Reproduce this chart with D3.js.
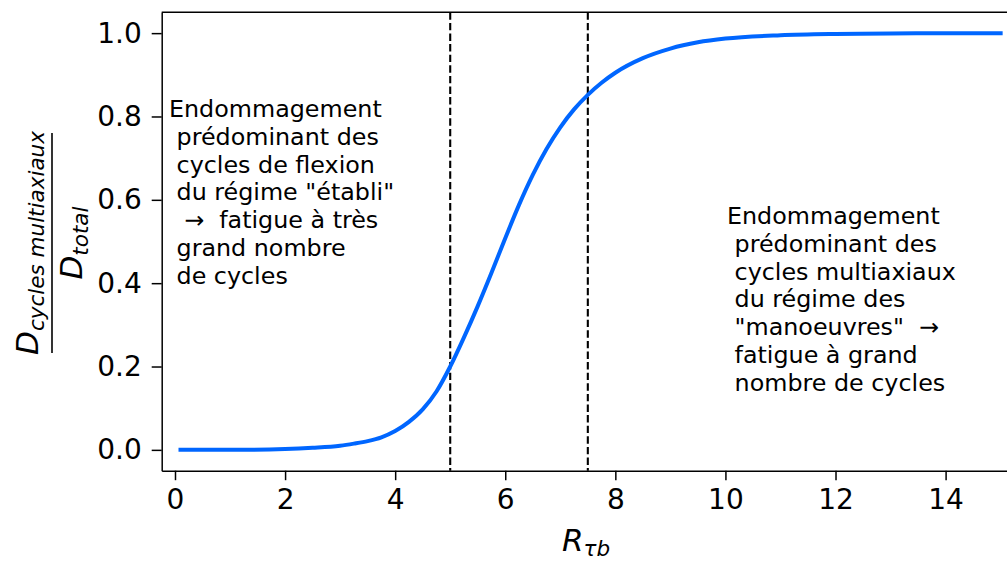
<!DOCTYPE html>
<html>
<head>
<meta charset="utf-8">
<script src="https://cdn.jsdelivr.net/npm/d3@7"></script>
<style>
  body { margin: 0; background: #fff; }
  svg { display: block; font-family: "DejaVu Sans", sans-serif; }
  .ann { white-space: pre; }
</style>
</head>
<body>
<svg width="1007" height="561"></svg>
<script>
// values
var ratioX = [0.1, 1, 2, 2.5, 3, 3.25, 3.5, 3.75, 4, 4.25, 4.5, 4.75, 5, 5.25, 5.5, 5.75, 6, 6.25, 6.5, 6.75, 7, 7.25, 7.5, 7.75, 8, 8.5, 9, 9.5, 10, 11, 12, 13, 14, 15];
var damageShare = [0, 0, 0.002, 0.005, 0.01, 0.015, 0.021, 0.03, 0.045, 0.067, 0.097, 0.14, 0.2, 0.27, 0.345, 0.425, 0.508, 0.588, 0.66, 0.722, 0.774, 0.817, 0.852, 0.881, 0.905, 0.94, 0.963, 0.978, 0.987, 0.995, 0.998, 0.999, 1.0, 1.0];
var limits = [5, 7.5];
var xTicks = [0, 2, 4, 6, 8, 10, 12, 14];
var yTicks = [0, 0.2, 0.4, 0.6, 0.8, 1.0];
var leftNote = ["Endommagement", " prédominant des", " cycles de flexion", " du régime \"établi\"", "  \u2192  fatigue à très", " grand nombre", " de cycles"];
var rightNote = ["Endommagement", " prédominant des", " cycles multiaxiaux", " du régime des", " \"manoeuvres\"  \u2192", " fatigue à grand", " nombre de cycles"];

var svg = d3.select("svg");
var pLeft = 161.7, pRight = 1010, pTop = 12.3, pBottom = 470.7;

var x = d3.scaleLinear().domain([-0.2416, 15.17]).range([pLeft, pRight]);
var y = d3.scaleLinear().domain([-0.05, 1.05]).range([pBottom, pTop]);

// dashed limits
svg.append("g").selectAll("line")
	.data(limits)
	.enter().append("line")
	.attr("x1", function(d) { return x(d); })
	.attr("x2", function(d) { return x(d); })
	.attr("y1", pTop)
	.attr("y2", pBottom)
	.attr("stroke", "#000")
	.attr("stroke-width", 2.1)
	.attr("stroke-dasharray", "7.4,3.2");

var pts = ratioX.map(function(d, i) { return [d, damageShare[i]]; });
var line = d3.line()
	.x(function(d) { return x(d[0]); })
	.y(function(d) { return y(d[1]); })
	.curve(d3.curveMonotoneX);

svg.append("path")
	.datum(pts)
	.attr("d", line)
	.attr("fill", "none")
	.attr("stroke", "#0066ff")
	.attr("stroke-width", 4)
	.attr("stroke-linecap", "square");

// axes
var xAxis = svg.append("g")
	.attr("transform", "translate(0," + pBottom + ")")
	.call(d3.axisBottom(x).tickValues(xTicks).tickSize(9.5).tickPadding(9).tickSizeOuter(0).tickFormat(d3.format("d")));
var yAxis = svg.append("g")
	.attr("transform", "translate(" + pLeft + ",0)")
	.call(d3.axisLeft(y).tickValues(yTicks).tickSize(10).tickPadding(10).tickSizeOuter(0).tickFormat(d3.format(".1f")));

[xAxis, yAxis].forEach(function(a) {
	a.selectAll("text").attr("font-size", 28).attr("fill", "#000").attr("font-family", "DejaVu Sans");
	a.selectAll("line").attr("stroke", "#000").attr("stroke-width", 1.5);
	a.select(".domain").attr("stroke", "#000").attr("stroke-width", 1.5);
});

// top spine
svg.append("line")
	.attr("x1", pLeft).attr("x2", pRight)
	.attr("y1", pTop).attr("y2", pTop)
	.attr("stroke", "#000").attr("stroke-width", 1.5);

// x label  R_tb
var xl = svg.append("text")
	.attr("x", 562).attr("y", 551)
	.attr("font-style", "italic")
	.attr("font-size", 31);
xl.append("tspan").text("R");
xl.append("tspan").attr("font-size", 21.5).attr("dy", 5).text("\u03c4b");

// y label: fraction
var yl = svg.append("g").attr("transform", "translate(52,243) rotate(-90)");
yl.append("line")
	.attr("x1", -110).attr("x2", 110)
	.attr("y1", 0).attr("y2", 0)
	.attr("stroke", "#000").attr("stroke-width", 1.6);
var num = yl.append("text")
	.attr("x", 0).attr("y", -14)
	.attr("text-anchor", "middle")
	.attr("font-style", "italic")
	.attr("font-size", 31);
num.append("tspan").text("D");
num.append("tspan").attr("font-size", 21.5).attr("dy", 6).text("cycles multiaxiaux");
var den = yl.append("text")
	.attr("x", 0).attr("y", 30)
	.attr("text-anchor", "middle")
	.attr("font-style", "italic")
	.attr("font-size", 31);
den.append("tspan").text("D");
den.append("tspan").attr("font-size", 21.5).attr("dy", 6).text("total");

// annotations
function note(lines, x0, y0) {
	svg.append("g").selectAll("text")
		.data(lines)
		.enter().append("text")
		.attr("class", "ann")
		.attr("x", x0)
		.attr("y", function(d, i) { return y0 + i * 27.7; })
		.attr("font-size", 23.8)
		.attr("fill", "#000")
		.text(function(d) { return d; });
}
note(leftNote, 169, 117.3);
note(rightNote, 727, 224.3);
</script>
</body>
</html>
